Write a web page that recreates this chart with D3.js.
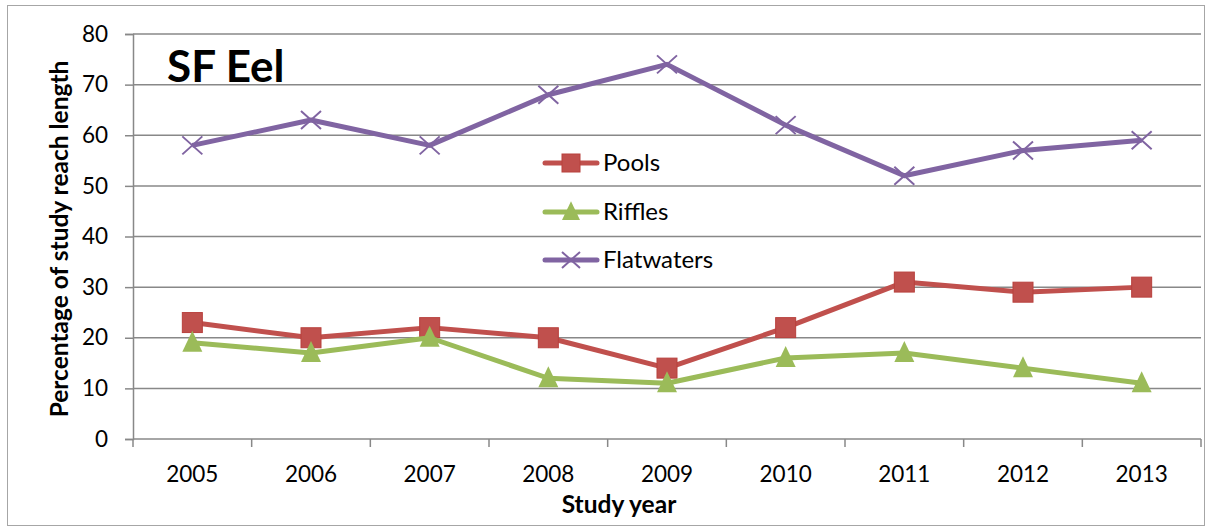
<!DOCTYPE html>
<html><head><meta charset="utf-8">
<script src="https://cdn.jsdelivr.net/npm/d3@7"></script>
<style>body{margin:0;background:#fff}svg{display:block}text{font-family:Lato,"Open Sans",sans-serif}</style>
</head><body>
<svg id="c" width="1206" height="527"></svg>
<script>
const years = ["2005","2006","2007","2008","2009","2010","2011","2012","2013"];
const pools = [23,20,22,20,14,22,31,29,30];
const riffles = [19,17,20,12,11,16,17,14,11];
const flatwaters = [58,63,58,68,74,62,52,57,59];
const yTicks = [0,10,20,30,40,50,60,70,80];
const seriesNames = ["Pools","Riffles","Flatwaters"];

const svg = d3.select("#c");
const L=133,R=1201,T=34,B=439;
svg.append("rect").attr("x",7.5).attr("y",5.5).attr("width",1197).attr("height",520).attr("fill","#fff").attr("stroke","#a6a6a6").attr("stroke-width",1);

const x = d3.scaleBand().domain(years).range([L,R]);
const y = d3.scaleLinear().domain([0,80]).range([B,T]);
const grid="#888";

svg.append("g").selectAll("line").data(yTicks.filter(d=>d>0)).join("line")
 .attr("x1",L).attr("x2",R).attr("y1",d=>y(d)).attr("y2",d=>y(d)).attr("stroke",grid).attr("stroke-width",1.5);

const ya = svg.append("g").attr("transform",`translate(${L},0)`).call(d3.axisLeft(y).tickValues(yTicks).tickSize(8).tickPadding(17));
ya.select(".domain").attr("stroke",grid).attr("stroke-width",1.5);
ya.selectAll(".tick line").attr("stroke",grid).attr("stroke-width",1.5);
ya.selectAll("text").attr("font-size",22.5).attr("fill","#000").style("font-family","Lato,'Open Sans',sans-serif");

svg.append("line").attr("x1",L).attr("x2",R).attr("y1",B).attr("y2",B).attr("stroke",grid).attr("stroke-width",1.5);
const bounds = years.map(d=>x(d)).concat([x(years[years.length-1])+x.bandwidth()]);
svg.append("g").selectAll("line").data(bounds).join("line")
 .attr("x1",d=>d).attr("x2",d=>d).attr("y1",B).attr("y2",B+8).attr("stroke",grid).attr("stroke-width",1.5);
svg.append("g").selectAll("text").data(years).join("text")
 .attr("x",d=>x(d)+x.bandwidth()/2).attr("y",482).attr("text-anchor","middle").attr("font-size",22.5).attr("fill","#000").text(d=>d);

svg.append("text").attr("x",619).attr("y",513).attr("text-anchor","middle").attr("font-size",24.5).attr("font-weight","bold").text("Study year");
svg.append("text").attr("transform","translate(68,239) rotate(-90)").attr("text-anchor","middle").attr("font-size",24.5).attr("font-weight","bold").text("Percentage of study reach length");

svg.append("text").attr("x",167).attr("y",82).attr("font-size",44).attr("font-weight","bold").text("SF Eel");

const cx = d=>x(d)+x.bandwidth()/2;
const colors = ["#C0504D","#9BBB59","#8064A2"];
const data = [pools,riffles,flatwaters];
const line = d3.line().x((d,i)=>cx(years[i])).y(d=>y(d));

function marker(g,type,color,px,py,s){
  s = s||1;
  if(type===0){
    g.append("rect").attr("x",px-10*s).attr("y",py-10*s).attr("width",20*s).attr("height",20*s).attr("fill",color).attr("stroke","#b8403d").attr("stroke-width",1);
  } else if(type===1){
    g.append("path").attr("d",`M${px},${py-12*s}L${px+10*s},${py+9*s}L${px-10*s},${py+9*s}Z`).attr("fill",color);
  } else {
    g.append("path").attr("d",`M${px-10*s},${py-9*s}L${px+10*s},${py+9*s}M${px-10*s},${py+9*s}L${px+10*s},${py-9*s}`).attr("stroke",color).attr("stroke-width",2).attr("fill","none");
  }
}

data.forEach((vals,k)=>{
  svg.append("path").datum(vals).attr("d",line).attr("fill","none").attr("stroke",colors[k]).attr("stroke-width",5).attr("stroke-linejoin","round");
  const g = svg.append("g");
  vals.forEach((v,i)=>marker(g,k,colors[k],cx(years[i]),y(v)));
});

const legY=[163,212,260];
seriesNames.forEach((n,k)=>{
  svg.append("line").attr("x1",545).attr("x2",597).attr("y1",legY[k]).attr("y2",legY[k]).attr("stroke",colors[k]).attr("stroke-width",5).attr("stroke-linecap","round");
  marker(svg.append("g"),k,colors[k],571,legY[k],0.9);
  svg.append("text").attr("x",603).attr("y",legY[k]+8).attr("font-size",24).attr("fill","#000").text(n);
});
</script>
</body></html>
